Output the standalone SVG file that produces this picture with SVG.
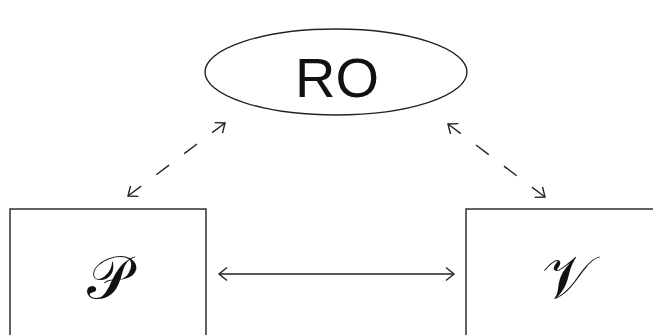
<svg xmlns="http://www.w3.org/2000/svg" width="653" height="335" viewBox="0 0 653 335">
  <style>
    .shape { fill: #fff; stroke: #222; stroke-width: 1.4; }
    .link { fill: none; stroke: #222; stroke-width: 1.4; }
    .dashed { stroke-dasharray: 16 19; }
    .label { font-family: "Liberation Sans", Arial, sans-serif; fill: #111; text-anchor: middle; }
    .math { font-family: "DejaVu Serif", "Liberation Serif", serif; fill: #111; text-anchor: middle; }
  </style>
  <defs>
    <marker id="open-head" viewBox="-10 -8 12 16" markerWidth="12" markerHeight="16" refX="0" refY="0" orient="auto-start-reverse" markerUnits="userSpaceOnUse">
      <path d="M-8,-6.5 L0,0 L-8,6.5" fill="none" stroke="#222" stroke-width="1.4"/>
    </marker>
  </defs>
  <rect width="653" height="335" fill="#fff"/>

  <g id="node-ro">
    <ellipse class="shape" cx="336" cy="72" rx="131" ry="43"/>
    <text class="label" x="337" y="97" font-size="56">RO</text>
  </g>

  <g id="node-p">
    <rect class="shape" x="10" y="209" width="196" height="140"/>
    <text class="math" x="108" y="298" font-size="60">𝒫</text>
  </g>

  <g id="node-v">
    <rect class="shape" x="466" y="209" width="200" height="140"/>
    <text class="math" x="567" y="298" font-size="60">𝒱</text>
  </g>

  <g id="connectors">
    <line class="link dashed" x1="225" y1="123" x2="128" y2="196" marker-start="url(#open-head)" marker-end="url(#open-head)"/>
    <line class="link dashed" x1="448" y1="124" x2="545" y2="197" marker-start="url(#open-head)" marker-end="url(#open-head)"/>
    <line class="link" x1="219" y1="274" x2="454" y2="274" marker-start="url(#open-head)" marker-end="url(#open-head)"/>
  </g>
</svg>
